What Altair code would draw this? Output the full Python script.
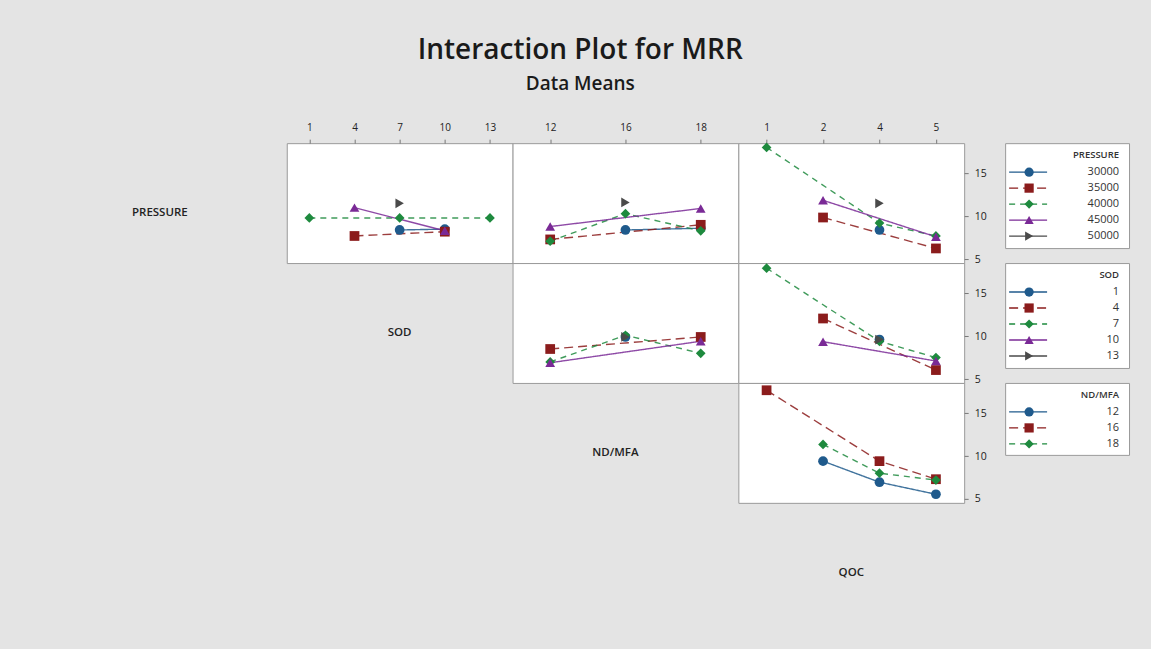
import altair as alt
import pandas as pd

# ---------------- data ----------------
PRESSURE_LEVELS = ["30000", "35000", "40000", "45000", "50000"]
SOD_LEVELS = ["1", "4", "7", "10", "13"]
ND_LEVELS = ["12", "16", "18"]
QOC_LEVELS = ["1", "2", "4", "5"]

# trace = PRESSURE, x = SOD   (None = no mean)
P_BY_SOD = {
    "30000": [None, None, 8.4, 8.5, None],
    "35000": [None, 7.7, None, 8.2, None],
    "40000": [9.8, None, 9.8, None, 9.8],
    "45000": [None, 11.0, None, 8.3, None],
    "50000": [None, None, 11.5, None, None],
}
# trace = PRESSURE, x = ND/MFA
P_BY_ND = {
    "30000": [None, 8.4, 8.6],
    "35000": [7.3, None, 9.0],
    "40000": [7.1, 10.3, 8.3],
    "45000": [8.8, None, 10.9],
    "50000": [None, 11.6, None],
}
# trace = PRESSURE, x = QOC
P_BY_QOC = {
    "30000": [None, None, 8.4, None],
    "35000": [None, 9.85, None, 6.25],
    "40000": [18.0, None, 9.2, 7.7],
    "45000": [None, 11.85, None, 7.6],
    "50000": [None, None, 11.5, None],
}
# trace = SOD, x = ND/MFA
S_BY_ND = {
    "1": [None, 9.9, None],
    "4": [8.5, None, 9.9],
    "7": [7.0, 10.1, 8.0],
    "10": [6.9, None, 9.4],
    "13": [None, 9.9, None],
}
# trace = SOD, x = QOC
S_BY_QOC = {
    "1": [None, None, 9.6, None],
    "4": [None, 12.05, None, 6.05],
    "7": [17.9, None, 9.4, 7.5],
    "10": [None, 9.35, None, 7.1],
    "13": [None, None, 9.6, None],
}
# trace = ND/MFA, x = QOC
N_BY_QOC = {
    "12": [None, 9.4, 6.95, 5.55],
    "16": [17.65, None, 9.4, 7.3],
    "18": [None, 11.35, 8.0, 7.2],
}

# ---------------- styles ----------------
KEYS = ["L1", "L2", "L3", "L4", "L5"]
COLORS = ["#1f5a8c", "#8b1c1c", "#1e8a3e", "#7a2a96", "#4a4a4a"]
SHAPES = ["circle", "square", "diamond", "triangle-up", "triangle-right"]
DASHES = [[1, 0], [9, 5], [6, 5], [1, 0], [1, 0]]
FONT = "Open Sans"
W, H = 226, 120
LEG_W = 124
GAP_W = 41
YDOM = [4.55, 18.5]
BORDER = "#9a9a9a"


def to_df(table, trace_levels, x_levels):
    rows = []
    for i, lev in enumerate(trace_levels):
        for xv, yv in zip(x_levels, table[lev]):
            if yv is not None:
                rows.append({"k": KEYS[i], "x": xv, "y": yv})
    return pd.DataFrame(rows)


color_enc = alt.Color("k:N", scale=alt.Scale(domain=KEYS, range=COLORS), legend=None)
shape_enc = alt.Shape("k:N", scale=alt.Scale(domain=KEYS, range=SHAPES), legend=None)
dash_enc = alt.StrokeDash("k:N", scale=alt.Scale(domain=KEYS, range=DASHES), legend=None)


def panel(table, trace_levels, x_levels, top_axis=False, right_axis=False):
    df = to_df(table, trace_levels, x_levels)
    if top_axis:
        xaxis = alt.Axis(orient="top", title=None, labelAngle=0, domain=False, grid=False,
                         tickSize=4, tickColor="#777", labelFont=FONT, labelFontSize=10,
                         labelColor="#222", labelPadding=7)
    else:
        xaxis = None
    if right_axis:
        yaxis = alt.Axis(orient="right", title=None, values=[5, 10, 15], domain=False, grid=False,
                         tickSize=4, tickColor="#777", labelFont=FONT, labelFontSize=10.5,
                         labelColor="#222", labelPadding=6)
    else:
        yaxis = None
    base = alt.Chart(df).encode(
        x=alt.X("x:O", sort=x_levels,
                scale=alt.Scale(type="point", domain=x_levels, padding=0.5), axis=xaxis),
        y=alt.Y("y:Q", scale=alt.Scale(domain=YDOM, nice=False, zero=False), axis=yaxis),
        color=color_enc,
    )
    lines = base.mark_line(strokeWidth=1.4, opacity=0.85).encode(strokeDash=dash_enc, detail="k:N")
    pts = base.mark_point(filled=True, size=95, opacity=1).encode(shape=shape_enc)
    return alt.layer(lines, pts).properties(
        width=W, height=H, view=alt.ViewBackground(fill="white", stroke=BORDER, strokeWidth=1)
    )


def label_cell(text, dx=0, w=W):
    return alt.Chart(pd.DataFrame({"t": [text]})).mark_text(
        font=FONT, fontSize=11.5, fontWeight=600, color="#222", baseline="middle"
    ).encode(text="t:N", x=alt.value(w / 2 + dx), y=alt.value(70)).properties(width=w, height=H)


def legend_cell(title, labels, h):
    n = len(labels)
    df = pd.DataFrame({"lab": labels, "k": KEYS[:n]})
    ypos = alt.Y("lab:N", sort=labels, axis=None,
                 scale=alt.Scale(type="point", domain=labels, range=[29, 29 + 16 * (n - 1)], padding=0))
    seg = alt.Chart(df).mark_rule(strokeWidth=1.4).encode(
        y=ypos, x=alt.value(4), x2=alt.value(42), color=color_enc, strokeDash=dash_enc)
    pts = alt.Chart(df).mark_point(filled=True, size=85, opacity=1).encode(
        y=ypos, x=alt.value(24), color=color_enc, shape=shape_enc)
    txt = alt.Chart(df).mark_text(align="right", baseline="middle", font=FONT, fontSize=11,
                                  color="#333").encode(y=ypos, x=alt.value(114), text="lab:N")
    ttl = alt.Chart(pd.DataFrame({"t": [title]})).mark_text(
        align="right", baseline="middle", font=FONT, fontSize=9.5, fontWeight=600, color="#333"
    ).encode(x=alt.value(114), y=alt.value(12), text="t:N")
    return alt.layer(seg, pts, txt, ttl).properties(
        width=LEG_W, height=h, view=alt.ViewBackground(fill="white", stroke=BORDER, strokeWidth=1)
    )


cells = [
    # row 1
    label_cell("PRESSURE", dx=-14),
    panel(P_BY_SOD, PRESSURE_LEVELS, SOD_LEVELS, top_axis=True),
    panel(P_BY_ND, PRESSURE_LEVELS, ND_LEVELS, top_axis=True),
    panel(P_BY_QOC, PRESSURE_LEVELS, QOC_LEVELS, top_axis=True, right_axis=True),
    label_cell("", w=GAP_W),
    legend_cell("PRESSURE", PRESSURE_LEVELS, 105),
    # row 2
    label_cell(""),
    label_cell("SOD"),
    panel(S_BY_ND, SOD_LEVELS, ND_LEVELS),
    panel(S_BY_QOC, SOD_LEVELS, QOC_LEVELS, right_axis=True),
    label_cell("", w=GAP_W),
    legend_cell("SOD", SOD_LEVELS, 105),
    # row 3
    label_cell(""),
    label_cell(""),
    label_cell("ND/MFA", dx=-10),
    panel(N_BY_QOC, ND_LEVELS, QOC_LEVELS, right_axis=True),
    label_cell("", w=GAP_W),
    legend_cell("ND/MFA", ND_LEVELS, 72),
    # row 4
    label_cell(""),
    label_cell(""),
    label_cell(""),
    label_cell("QOC"),
    label_cell("", w=GAP_W),
    label_cell("", w=LEG_W),
]

chart = alt.concat(*cells, columns=6, spacing=0, bounds="flush", align="each").resolve_scale(
    x="independent", y="independent"
).properties(
    title=alt.TitleParams(
        "Interaction Plot for MRR", subtitle="Data Means", anchor="middle", dx=-15,
        font=FONT, fontSize=28, fontWeight=600, color="#1a1a1a",
        subtitleFont=FONT, subtitleFontSize=19, subtitleFontWeight=600, subtitleColor="#1a1a1a",
        subtitlePadding=10, offset=28,
    ),
    padding={"left": 61, "top": 36, "right": 21, "bottom": 26},
    background="#e4e4e4",
).configure_view(stroke=None)

chart.save("out.html", embed_options={"renderer": "svg", "actions": False})
